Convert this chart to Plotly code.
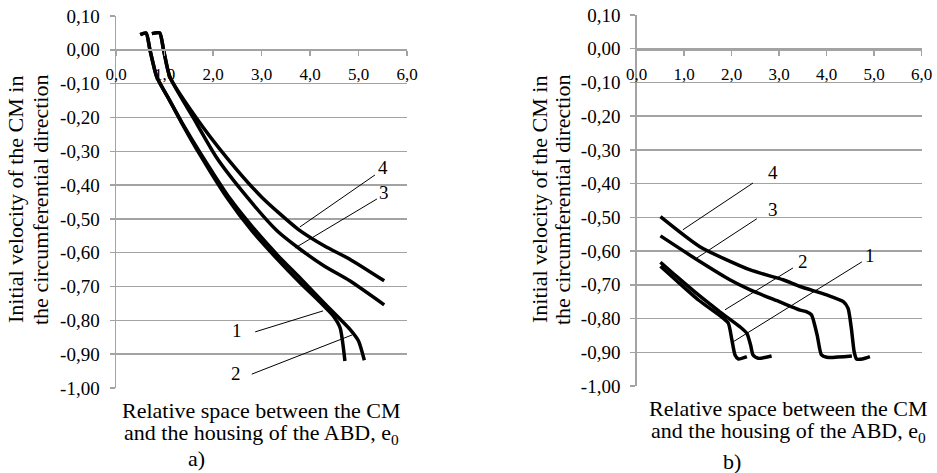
import plotly.graph_objects as go

# ---------------- data: panel a) ----------------
a1_x = [0.50, 0.62, 0.70, 0.84, 1.10, 1.35, 1.73, 2.30, 2.80, 3.30, 3.79, 4.20, 4.48, 4.62, 4.72]
a1_y = [0.045, 0.05, 0.00, -0.08, -0.148, -0.215, -0.31, -0.44, -0.535, -0.615, -0.688, -0.745, -0.787, -0.822, -0.92]
a2_x = [0.50, 0.62, 0.70, 0.84, 1.10, 1.36, 1.76, 2.35, 2.88, 3.35, 3.79, 4.30, 4.82, 5.00, 5.12]
a2_y = [0.045, 0.05, 0.00, -0.08, -0.148, -0.215, -0.31, -0.44, -0.535, -0.61, -0.674, -0.75, -0.826, -0.861, -0.918]
a3_x = [0.74, 0.90, 0.98, 1.11, 1.59, 2.08, 2.70, 3.32, 3.79, 4.30, 4.82, 5.53]
a3_y = [0.048, 0.05, 0.00, -0.08, -0.20, -0.32, -0.435, -0.535, -0.589, -0.64, -0.683, -0.754]
a4_x = [0.74, 0.90, 0.98, 1.11, 1.65, 2.29, 3.00, 3.75, 4.30, 4.82, 5.53]
a4_y = [0.048, 0.05, 0.00, -0.08, -0.20, -0.32, -0.435, -0.53, -0.58, -0.619, -0.683]

# ---------------- data: panel b) ----------------
b1_x = [0.50, 0.84, 1.30, 1.82, 1.93, 2.00, 2.07, 2.14, 2.32]
b1_y = [-0.645, -0.688, -0.745, -0.799, -0.814, -0.86, -0.908, -0.92, -0.913]
b2_x = [0.50, 0.84, 1.30, 1.75, 2.17, 2.32, 2.40, 2.45, 2.56, 2.84]
b2_y = [-0.633, -0.675, -0.73, -0.78, -0.824, -0.844, -0.88, -0.908, -0.918, -0.911]
b3_x = [0.50, 1.33, 1.96, 2.39, 3.00, 3.44, 3.58, 3.68, 3.80, 3.89, 4.00, 4.53]
b3_y = [-0.555, -0.631, -0.685, -0.715, -0.75, -0.775, -0.78, -0.789, -0.85, -0.908, -0.915, -0.911]
b4_x = [0.50, 1.33, 2.39, 3.08, 3.44, 4.00, 4.35, 4.45, 4.52, 4.58, 4.63, 4.75, 4.91]
b4_y = [-0.498, -0.587, -0.656, -0.685, -0.705, -0.73, -0.75, -0.77, -0.83, -0.90, -0.92, -0.92, -0.913]

# ---------------- ticks ----------------
y_tickvals = [0.10, 0.00, -0.10, -0.20, -0.30, -0.40, -0.50, -0.60, -0.70, -0.80, -0.90, -1.00]
y_ticktext = ["0,10", "0,00", "-0,10", "-0,20", "-0,30", "-0,40", "-0,50", "-0,60", "-0,70", "-0,80", "-0,90", "-1,00"]
x_tickvals = [0, 1, 2, 3, 4, 5, 6]
x_ticktext = ["0,0", "1,0", "2,0", "3,0", "4,0", "5,0", "6,0"]

# curve labels: (panel, label, label_x, label_y, line_from_x, line_from_y, line_to_x, line_to_y)
labels = [
    ("a", "1", 2.49, -0.831, 2.87, -0.834, 4.27, -0.772),
    ("a", "2", 2.47, -0.956, 2.80, -0.959, 4.87, -0.843),
    ("a", "3", 5.53, -0.423, 5.38, -0.441, 3.69, -0.586),
    ("a", "4", 5.51, -0.349, 5.34, -0.370, 3.79, -0.524),
    ("b", "1", 4.91, -0.614, 4.74, -0.632, 2.03, -0.869),
    ("b", "2", 3.50, -0.632, 3.29, -0.650, 1.86, -0.774),
    ("b", "3", 2.86, -0.478, 2.53, -0.504, 1.26, -0.621),
    ("b", "4", 2.87, -0.368, 2.45, -0.398, 0.97, -0.537),
]

FONT = "Liberation Serif, Times New Roman, DejaVu Serif, serif"
GRID = "#a3a3a3"
fig = go.Figure()

for xs, ys in [(a1_x, a1_y), (a2_x, a2_y), (a3_x, a3_y), (a4_x, a4_y)]:
    fig.add_trace(go.Scatter(x=xs, y=ys, mode="lines", xaxis="x", yaxis="y",
                             line=dict(color="black", width=3.5, shape="spline", smoothing=0.6),
                             showlegend=False, hoverinfo="skip"))
for xs, ys in [(b1_x, b1_y), (b2_x, b2_y), (b3_x, b3_y), (b4_x, b4_y)]:
    fig.add_trace(go.Scatter(x=xs, y=ys, mode="lines", xaxis="x2", yaxis="y2",
                             line=dict(color="black", width=3.5, shape="spline", smoothing=0.6),
                             showlegend=False, hoverinfo="skip"))

ann = []
shapes = []
for ax, txt, lx, ly, fx, fy, tx, ty in labels:
    xr, yr = ("x", "y") if ax == "a" else ("x2", "y2")
    ann.append(dict(x=lx, y=ly, xref=xr, yref=yr, text=txt, showarrow=False,
                    xanchor="center", yanchor="middle",
                    font=dict(family=FONT, size=19, color="black")))
    shapes.append(dict(type="line", xref=xr, yref=yr, x0=fx, y0=fy, x1=tx, y1=ty,
                       line=dict(color="black", width=1)))


def paper_text(px, py, text, angle=0, size=22):
    return dict(x=px / 937, y=1 - py / 473, xref="paper", yref="paper", text=text,
                textangle=angle, showarrow=False, xanchor="center", yanchor="middle",
                font=dict(family=FONT, size=size, color="black"))


y_line1 = "Initial velocity of the CM in"
y_line2 = "the circumferential direction"
x_line1 = "Relative space between the CM"
x_line2 = "and the housing of the ABD, e<sub>0</sub>"
ann += [
    paper_text(15, 200, y_line1, -90), paper_text(40, 200, y_line2, -90),
    paper_text(539, 200, y_line1, -90), paper_text(562, 200, y_line2, -90),
    paper_text(261, 410, x_line1), paper_text(261, 434, x_line2),
    paper_text(788, 408, x_line1), paper_text(788, 432, x_line2),
    paper_text(196, 458, "a)"), paper_text(732, 461, "b)"),
]

xaxis_common = dict(range=[0, 6], tickvals=x_tickvals, ticktext=x_ticktext, showgrid=False,
                    showline=True, linecolor=GRID, linewidth=1.5, ticks="outside", ticklen=5,
                    tickcolor=GRID, tickwidth=1.5, zeroline=False, anchor="free",
                    ticklabelstandoff=4, automargin=False,
                    tickfont=dict(family=FONT, size=17, color="black"))
yaxis_common = dict(range=[-1.0, 0.1], tickvals=y_tickvals, ticktext=y_ticktext, showgrid=True,
                    gridcolor=GRID, gridwidth=1.5, showline=True, linecolor=GRID, linewidth=1.5,
                    ticks="outside", ticklen=5, tickcolor=GRID, tickwidth=1.5, zeroline=False,
                    automargin=False, ticklabelstandoff=6,
                    tickfont=dict(family=FONT, size=19, color="black"))

fig.update_layout(
    width=937, height=473,
    margin=dict(l=0, r=0, t=0, b=0),
    paper_bgcolor="white", plot_bgcolor="white",
    xaxis=dict(domain=[116 / 937, 407 / 937], position=1 - 49 / 473, **xaxis_common),
    yaxis=dict(domain=[1 - 388 / 473, 1 - 16 / 473], anchor="x", **yaxis_common),
    xaxis2=dict(domain=[636.7 / 937, 921.7 / 937], position=1 - 49 / 473, **xaxis_common),
    yaxis2=dict(domain=[1 - 386 / 473, 1 - 15 / 473], anchor="x2", **yaxis_common),
    annotations=ann,
    shapes=shapes,
)

fig.write_html("out.html", config={"displayModeBar": False, "staticPlot": True},
               post_script="document.body.style.margin='0px';document.body.style.overflow='hidden';")
